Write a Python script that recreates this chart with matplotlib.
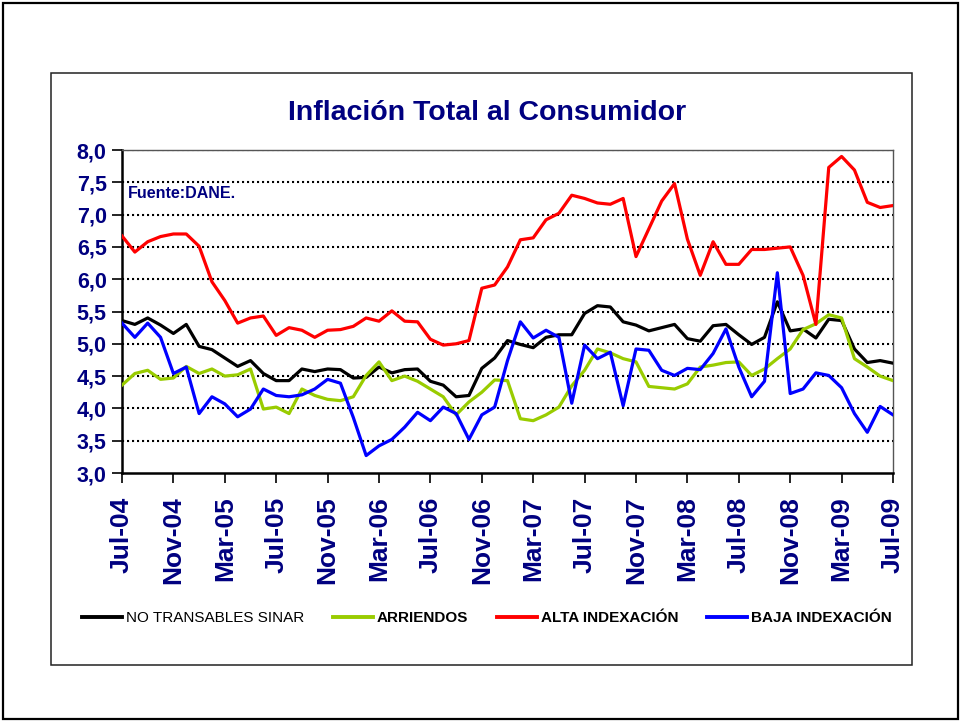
import numpy as np
import matplotlib.pyplot as plt
from matplotlib.patches import Rectangle

plt.rcParams['font.family'] = ['Liberation Sans', 'DejaVu Sans']

meses = ["Jul", "Ago", "Sep", "Oct", "Nov", "Dic", "Ene", "Feb", "Mar", "Abr", "May", "Jun"]
labels = []
for k in range(61):
    m = k % 12
    yr = 4 + (k + 6) // 12
    labels.append(f"{meses[m]}-{yr:02d}")

no_transables = [5.36, 5.30, 5.40, 5.29, 5.16, 5.30, 4.96, 4.91, 4.78, 4.65,
                 4.74, 4.54, 4.43, 4.43, 4.61, 4.57, 4.61, 4.60, 4.47, 4.48,
                 4.64, 4.55, 4.60, 4.61, 4.42, 4.36, 4.18, 4.20, 4.62, 4.78,
                 5.05, 4.99, 4.94, 5.10, 5.14, 5.14, 5.47, 5.59, 5.57, 5.34,
                 5.29, 5.20, 5.25, 5.30, 5.08, 5.04, 5.28, 5.30, 5.14, 4.99,
                 5.10, 5.65, 5.20, 5.23, 5.09, 5.38, 5.36, 4.92, 4.71, 4.74,
                 4.70]
arriendos = [4.36, 4.54, 4.59, 4.45, 4.47, 4.65, 4.54, 4.61, 4.50, 4.52,
             4.61, 3.99, 4.02, 3.92, 4.30, 4.20, 4.14, 4.12, 4.18, 4.51,
             4.72, 4.43, 4.50, 4.42, 4.30, 4.18, 3.90, 4.10, 4.25, 4.44,
             4.43, 3.84, 3.81, 3.90, 4.02, 4.35, 4.59, 4.92, 4.86, 4.77,
             4.72, 4.34, 4.32, 4.30, 4.38, 4.64, 4.67, 4.71, 4.72, 4.51,
             4.61, 4.77, 4.92, 5.22, 5.31, 5.45, 5.40, 4.77, 4.64, 4.50,
             4.43]
alta = [6.67, 6.42, 6.58, 6.66, 6.70, 6.70, 6.51, 5.96, 5.67, 5.32,
        5.40, 5.43, 5.13, 5.25, 5.21, 5.10, 5.21, 5.22, 5.27, 5.40,
        5.35, 5.51, 5.35, 5.34, 5.07, 4.98, 5.00, 5.05, 5.86, 5.91,
        6.19, 6.61, 6.64, 6.92, 7.02, 7.30, 7.25, 7.18, 7.16, 7.25,
        6.35, 6.78, 7.21, 7.48, 6.62, 6.06, 6.58, 6.23, 6.23, 6.46,
        6.46, 6.48, 6.50, 6.06, 5.30, 7.73, 7.90, 7.69, 7.19, 7.11,
        7.14]
baja = [5.32, 5.10, 5.32, 5.10, 4.54, 4.64, 3.92, 4.18, 4.07, 3.87,
        3.99, 4.30, 4.20, 4.18, 4.21, 4.30, 4.45, 4.39, 3.86, 3.27,
        3.42, 3.52, 3.71, 3.94, 3.81, 4.02, 3.92, 3.52, 3.90, 4.02,
        4.74, 5.34, 5.09, 5.21, 5.10, 4.08, 4.98, 4.77, 4.87, 4.04,
        4.92, 4.90, 4.59, 4.51, 4.62, 4.60, 4.85, 5.23, 4.64, 4.18,
        4.42, 6.10, 4.23, 4.30, 4.55, 4.51, 4.32, 3.92, 3.63, 4.03,
        3.90]

navy = "#000080"
x = np.arange(len(labels))

fig = plt.figure(figsize=(9.61, 7.21), dpi=100)
ax = fig.add_axes([122 / 961, 1 - 473 / 721, 771 / 961, 323 / 721])

# marcos
fig.patches.append(Rectangle((3 / 961, 2 / 721), 955 / 961, 716 / 721, transform=fig.transFigure,
                             fill=False, edgecolor="black", lw=1.6))
fig.patches.append(Rectangle((51 / 961, 1 - 665 / 721), 861 / 961, 592 / 721, transform=fig.transFigure,
                             fill=False, edgecolor="#222222", lw=1.1))

for v in np.arange(3.5, 8.01, 0.5):
    ax.axhline(v, color="black", lw=1.5, ls=(0, (1, 1.4)), zorder=1)

ax.plot(x, no_transables, color="black", lw=2.3, label="NO TRANSABLES SINAR", zorder=3)
ax.plot(x, arriendos, color="#99CC00", lw=2.3, label="ARRIENDOS", zorder=3)
ax.plot(x, alta, color="#FF0000", lw=2.3, label="ALTA INDEXACIÓN", zorder=3)
ax.plot(x, baja, color="#0000FF", lw=2.3, label="BAJA INDEXACIÓN", zorder=3)

ax.set_xlim(0, 60)
ax.set_ylim(3.0, 8.0)
ax.set_yticks(np.arange(3.0, 8.01, 0.5))
ax.set_yticklabels([f"{v:.1f}".replace(".", ",") for v in np.arange(3.0, 8.01, 0.5)],
                   fontsize=15.5, fontweight="bold", color=navy)
ax.set_xticks(x[::4])
ax.set_xticklabels(labels[::4], rotation=90, fontsize=19, fontweight="bold", color=navy)
ax.tick_params(axis="both", direction="out", length=7, width=1.2, color="black")
ax.tick_params(axis="y", pad=4)
ax.tick_params(axis="x", pad=10)

for s in ["left", "bottom"]:
    ax.spines[s].set_linewidth(1.8)
for s in ["top", "right"]:
    ax.spines[s].set_color("#555555")
    ax.spines[s].set_linewidth(1.0)

ax.text(0.008, 0.865, "Fuente:DANE.", transform=ax.transAxes, fontsize=11.5,
        fontweight="bold", color=navy, va="center", ha="left")

fig.text(487 / 961, 1 - 113 / 721, "Inflación Total al Consumidor", fontsize=20.5,
         fontweight="bold", color=navy, ha="center", va="center")

leg = fig.legend(loc="center", bbox_to_anchor=(487 / 961, 1 - 618 / 721), ncol=4,
                 frameon=False, fontsize=11, handlelength=2.6, handletextpad=0.25,
                 columnspacing=1.9)
for i, t in enumerate(leg.get_texts()):
    if i > 0:
        t.set_fontweight("bold")
for h in leg.get_lines():
    h.set_linewidth(2.8)

fig.savefig("out.png", dpi=100)
